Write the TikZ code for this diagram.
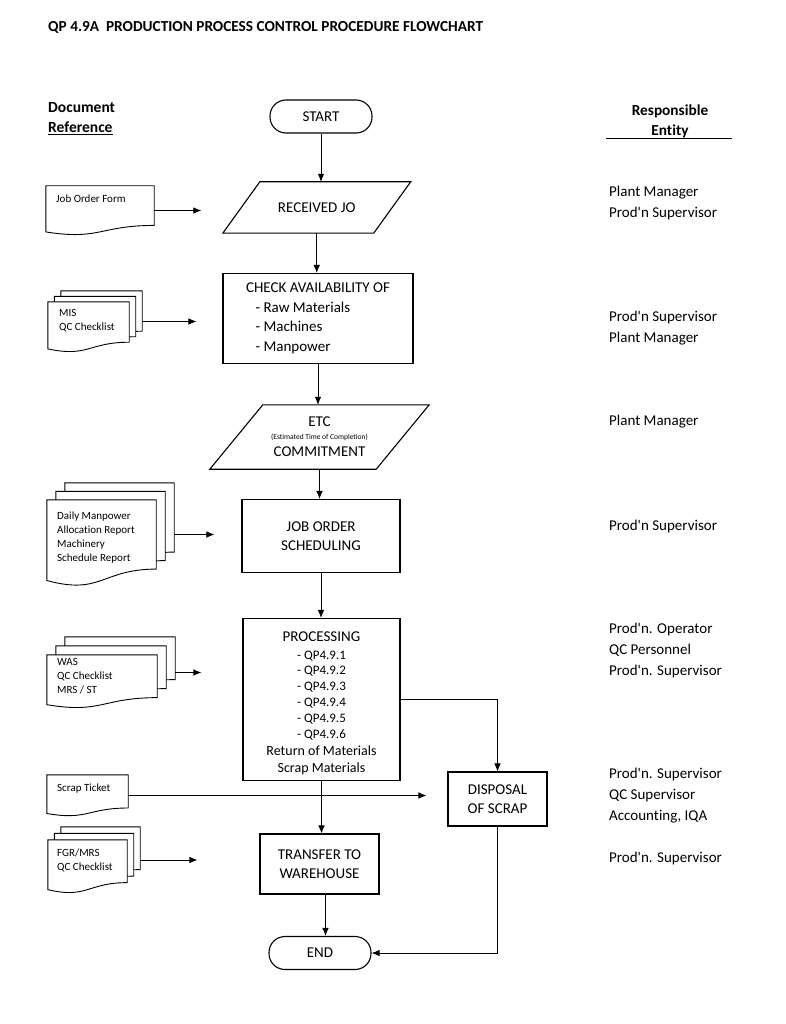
\documentclass[tikz,border=0pt]{standalone}
\usepackage{fontspec}
\newfontfamily\cf{Carlito}[Ligatures=NoCommon]
\usetikzlibrary{arrows.meta,calc}
\newcommand\fs[2]{\cf\fontsize{#1}{#2}\selectfont}
\newcommand\docshape[1]{\draw[docline] (#1.north west) -- (#1.north east) -- ($(#1.south east)!0.198!(#1.north east)$) .. controls ($(#1.south)!0.198!(#1.north)$) and ($(#1.south)!-0.107!(#1.north)$) .. ($(#1.south west)!0.066!(#1.north west)$) -- cycle;}
\newcommand\parashape[2]{\draw[boxline] ([xshift=#2]#1.north west) -- ([xshift=#2]#1.north east) -- ([xshift=-#2]#1.south east) -- ([xshift=-#2]#1.south west) -- cycle;}
\newcommand\qpfont{\fs{13}{16}}
\newcommand\retfont{\fs{14}{17}}
\begin{document}
\begin{tikzpicture}[x=1pt,y=-1pt,font=\cf,
  boxline/.style={draw=black,line width=1.1pt},
  proc/.style={boxline,rectangle,inner sep=0pt,align=center,font=\fs{15}{19.5}},
  term/.style={boxline,rounded corners=16pt,inner sep=0pt,minimum width=102pt,minimum height=33pt,font=\fs{15}{18}},
  para/.style={draw=none,inner sep=0pt,align=center,font=\fs{15}{18}},
  docbox/.style={draw=none,inner sep=0pt},
  docline/.style={draw=black,line width=0.9pt,fill=white},
  doctext/.style={inner sep=0pt,anchor=north west,align=left,font=\fs{11}{14}},
  ent/.style={inner sep=0pt,anchor=west,align=left,font=\fs{15}{21}},
  arr/.style={draw=black,line width=0.8pt,-{Latex[length=8pt,width=6.5pt]}}]
\useasboundingbox[fill=white] (0,0) rectangle (786,1024);

% headings
\node[anchor=west,inner sep=0pt,font=\fs{15.3}{18}\bfseries] (title) at (48,27.5) {QP 4.9A\ \ PRODUCTION PROCESS CONTROL PROCEDURE FLOWCHART};
\node[anchor=west,inner sep=0pt,align=left,font=\fs{15.5}{20}\bfseries] (docref) at (48,119) {Document\\\underline{Reference}};
\node[inner sep=0pt,align=center,font=\fs{15.3}{20}\bfseries] (resp) at (670,121) {Responsible\\Entity};
\draw[line width=1pt] (606,139) -- (732,139);

% main flow
\node[term] (start) at (321,116.5) {START};
\node[para,minimum width=150.5pt,minimum height=51pt] (recv) at (316.75,207.5) {RECEIVED JO};
\parashape{recv}{18.5pt}
\node[proc,minimum width=190pt,minimum height=90pt,align=left] (check) at (318,318.5) {CHECK AVAILABILITY OF\\\hspace*{9.5pt}- Raw Materials\\\hspace*{9.5pt}- Machines\\\hspace*{9.5pt}- Manpower};
\node[para,font=\fs{15}{15},minimum width=166pt,minimum height=64pt] (etc) at (319.5,437) {ETC\\[-2.4pt]\fs{7.5}{15}(Estimated Time of Completion)\\[2.4pt]COMMITMENT};
\parashape{etc}{26.5pt}
\node[proc,minimum width=158pt,minimum height=73pt] (job) at (321,536) {JOB ORDER\\SCHEDULING};
\node[proc,font=\fs{15}{16},minimum width=157pt,minimum height=162pt] (prc) at (321.5,699.5) {\rule{0pt}{17pt}PROCESSING\\[1.5pt]\qpfont - QP4.9.1\\[-0.2pt]\qpfont - QP4.9.2\\[-0.2pt]\qpfont - QP4.9.3\\[-0.2pt]\qpfont - QP4.9.4\\[-0.2pt]\qpfont - QP4.9.5\\[-0.2pt]\qpfont - QP4.9.6\\[1pt]\retfont Return of Materials\\[1pt]\retfont Scrap Materials};
\node[proc,minimum width=99pt,minimum height=54pt] (disp) at (497.5,799) {DISPOSAL\\OF SCRAP};
\node[proc,minimum width=119pt,minimum height=60pt] (trans) at (319.5,864) {TRANSFER TO\\WAREHOUSE};
\node[term] (end) at (320,953) {END};

\draw[arr] (start.south) -- (start.south |- recv.north);
\draw[arr] (recv.south) -- (recv.south |- check.north);
\draw[arr] (check.south) -- (check.south |- etc.north);
\draw[arr] (etc.south) -- (etc.south |- job.north);
\draw[arr] (job.south) -- (job.south |- prc.north);
\draw[arr] (prc.south) -- (prc.south |- trans.north);
\draw[arr] ([xshift=6pt]trans.south) -- ([xshift=6pt]trans.south |- end.north);
\draw[arr] (prc.east) -| (disp.north);
\draw[arr] (disp.south) |- (end.east);

% documents
\node[docbox,minimum width=108pt,minimum height=49pt] (jof) at (100,210.5) {};
\docshape{jof}
\node[doctext] (joft) at (56,195) {Job Order Form};

\node[docbox,minimum width=81pt,minimum height=50pt] (mis2) at (101.5,316) {};
\node[docbox,minimum width=81pt,minimum height=50pt] (mis1) at (95,321.5) {};
\node[docbox,minimum width=81pt,minimum height=50pt] (mis0) at (88.5,327) {};
\docshape{mis2}\docshape{mis1}\docshape{mis0}
\node[doctext] (mist) at (59,309.5) {MIS\\QC Checklist};

\node[docbox,minimum width=109pt,minimum height=86pt] (day2) at (119.5,526) {};
\node[docbox,minimum width=109pt,minimum height=86pt] (day1) at (110.5,534.5) {};
\node[docbox,minimum width=109pt,minimum height=86pt] (day0) at (101.5,543) {};
\docshape{day2}\docshape{day1}\docshape{day0}
\node[doctext] (dayt) at (57,511.5) {Daily Manpower\\Allocation Report\\Machinery\\Schedule Report};

\node[docbox,minimum width=110pt,minimum height=53pt] (was2) at (120,663.5) {};
\node[docbox,minimum width=110pt,minimum height=53pt] (was1) at (111,672.5) {};
\node[docbox,minimum width=110pt,minimum height=53pt] (was0) at (102,681.5) {};
\docshape{was2}\docshape{was1}\docshape{was0}
\node[doctext] (wast) at (57,658) {WAS\\QC Checklist\\MRS / ST};

\node[docbox,minimum width=81pt,minimum height=41pt] (scr) at (87.5,795.5) {};
\docshape{scr}
\node[doctext] (scrt) at (57,784) {Scrap Ticket};

\node[docbox,minimum width=79pt,minimum height=53pt] (fgr2) at (100.5,853.5) {};
\node[docbox,minimum width=79pt,minimum height=53pt] (fgr1) at (94,860) {};
\node[docbox,minimum width=79pt,minimum height=53pt] (fgr0) at (87.5,866.5) {};
\docshape{fgr2}\docshape{fgr1}\docshape{fgr0}
\node[doctext] (fgrt) at (57,848.5) {FGR/MRS\\QC Checklist};

% document arrows
\draw[arr,shorten >=40pt] (jof.east) -- (jof.east -| recv.west);
\draw[arr,shorten >=26pt] (mis2.east |- mis1.east) -- (mis1.east -| check.west);
\draw[arr,shorten >=27pt] (day2.east |- day1.east) -- (day1.east -| job.west);
\draw[arr,shorten >=41pt] (was2.east |- was1.east) -- (was1.east -| prc.west);
\draw[arr,shorten >=21pt] (scr.east) -- (scr.east -| disp.west);
\draw[arr,shorten >=62pt] (fgr2.east |- fgr1.east) -- (fgr1.east -| trans.west);

% responsible entities
\node[ent] (e1) at (609,203.5) {Plant Manager\\Prod'n Supervisor};
\node[ent] (e2) at (609,327.7) {Prod'n Supervisor\\Plant Manager};
\node[ent] (e3) at (609,421.7) {Plant Manager};
\node[ent] (e4) at (609,526) {Prod'n Supervisor};
\node[ent] (e5) at (609,650.9) {Prod'n. Operator\\QC Personnel\\Prod'n. Supervisor};
\node[ent] (e6) at (609,795.9) {Prod'n. Supervisor\\QC Supervisor\\Accounting, IQA};
\node[ent] (e7) at (609,858) {Prod'n. Supervisor};
\end{tikzpicture}
\end{document}
